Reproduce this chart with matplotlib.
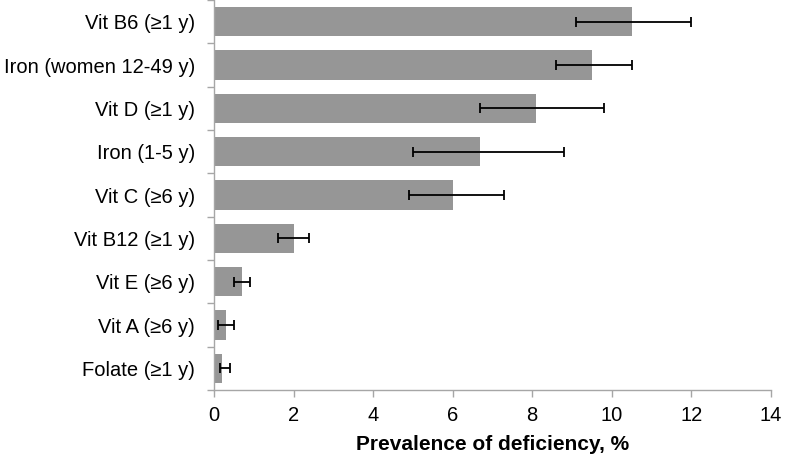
import matplotlib.pyplot as plt
import numpy as np

plt.rcParams['font.family'] = ['Liberation Sans', 'DejaVu Sans']

nutrients = ['Vit B6 (≥1 y)', 'Iron (women 12-49 y)', 'Vit D (≥1 y)', 'Iron (1-5 y)',
             'Vit C (≥6 y)', 'Vit B12 (≥1 y)', 'Vit E (≥6 y)', 'Vit A (≥6 y)', 'Folate (≥1 y)']
prevalence = [10.5, 9.5, 8.1, 6.7, 6.0, 2.0, 0.7, 0.3, 0.2]
ci_low = [9.1, 8.6, 6.7, 5.0, 4.9, 1.6, 0.5, 0.1, 0.15]
ci_high = [12.0, 10.5, 9.8, 8.8, 7.3, 2.4, 0.9, 0.5, 0.4]

fig = plt.figure(figsize=(7.85, 4.57), dpi=100)
ax = fig.add_axes([0.2726, 0.1466, 0.7094, 0.8534])

y = np.arange(len(nutrients))
vals = np.array(prevalence)
err = [vals - np.array(ci_low), np.array(ci_high) - vals]
ax.barh(y, vals, height=0.67, color='#969696', zorder=2)
ax.errorbar(vals, y, xerr=err, fmt='none', ecolor='black', elinewidth=1.3,
            capsize=3.6, capthick=1.3, zorder=3)

ax.set_ylim(len(nutrients) - 0.5, -0.5)
ax.set_xlim(0, 14)
ax.set_xticks(range(0, 15, 2))
ax.set_yticks(y)
ax.set_yticklabels(nutrients)
ax.set_yticks(np.arange(-0.5, len(nutrients), 1), minor=True)
ax.tick_params(axis='y', which='major', length=0, pad=13.5, labelsize=14.5)
ax.tick_params(axis='y', which='minor', length=5, color='#a6a6a6', width=1)
ax.tick_params(axis='x', length=5, color='#a6a6a6', width=1, labelsize=14.5, pad=6.5)

for side in ['top', 'right']:
    ax.spines[side].set_visible(False)
for side in ['left', 'bottom']:
    ax.spines[side].set_color('#a6a6a6')
    ax.spines[side].set_linewidth(1)

ax.set_xlabel('Prevalence of deficiency, %', fontsize=15, fontweight='bold', labelpad=7)

fig.savefig('out.png', dpi=100)
